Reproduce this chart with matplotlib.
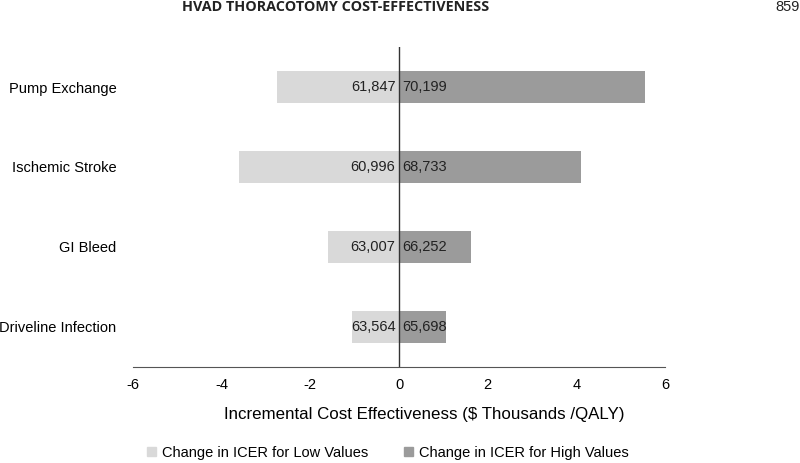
import numpy as np
import matplotlib.pyplot as plt
from matplotlib.patches import Patch

categories = ['Pump Exchange', 'Ischemic Stroke', 'GI Bleed', 'Driveline Infection']
low_change = [-2.75, -3.60, -1.60, -1.05]
high_change = [5.55, 4.10, 1.62, 1.07]
low_labels = ['61,847', '60,996', '63,007', '63,564']
high_labels = ['70,199', '68,733', '66,252', '65,698']

light = '#d9d9d9'
dark = '#9b9b9b'

plt.rcParams['font.family'] = ['Liberation Sans', 'DejaVu Sans']
plt.rcParams['axes.unicode_minus'] = False

fig = plt.figure(figsize=(8, 4.63), dpi=100)
ax = fig.add_axes([133 / 800, (463 - 367) / 463, 532 / 800, 320 / 463])

y = np.arange(len(categories))
ax.barh(y, low_change, height=0.39, color=light)
ax.barh(y, high_change, height=0.39, color=dark)
ax.axvline(0, color='#333333', lw=1)

for i in range(len(categories)):
    ax.text(-0.08, y[i], low_labels[i], ha='right', va='center', fontsize=10.5, color='#222222')
    ax.text(0.08, y[i], high_labels[i], ha='left', va='center', fontsize=10.5, color='#222222')

ax.set_xlim(-6, 6)
ax.set_ylim(len(categories) - 0.5, -0.5)
ax.set_xticks(range(-6, 7, 2))
ax.set_yticks(y)
ax.set_yticklabels(categories, fontsize=10.5)
ax.tick_params(axis='y', length=0, pad=12)
ax.tick_params(axis='x', length=0, pad=8, labelsize=10.5)
for s in ['top', 'right', 'left']:
    ax.spines[s].set_visible(False)
ax.spines['bottom'].set_color('#555555')
ax.set_xlabel('Incremental Cost Effectiveness ($ Thousands /QALY)', fontsize=12.2)
ax.xaxis.set_label_coords(0.547, -0.15)
ax.xaxis.label.set_va('center')

handles = [Patch(color=light, label='Change in ICER for Low Values'),
           Patch(color=dark, label='Change in ICER for High Values')]
fig.legend(handles=handles, loc='center', bbox_to_anchor=(0.485, (463 - 453) / 463),
           ncol=2, frameon=False, fontsize=10.5, handlelength=0.6, handleheight=0.6,
           handletextpad=0.4, columnspacing=2.5)

fig.text(336 / 800, 1 - 7 / 463, 'HVAD THORACOTOMY COST-EFFECTIVENESS', ha='center', va='center',
         fontsize=10.4, fontweight='bold', color='#222222', family='Open Sans', fontstretch='condensed')
fig.text(800 / 800, 1 - 7 / 463, '859', ha='right', va='center', fontsize=10.5, color='#222222')

fig.savefig('out.png', dpi=100)
